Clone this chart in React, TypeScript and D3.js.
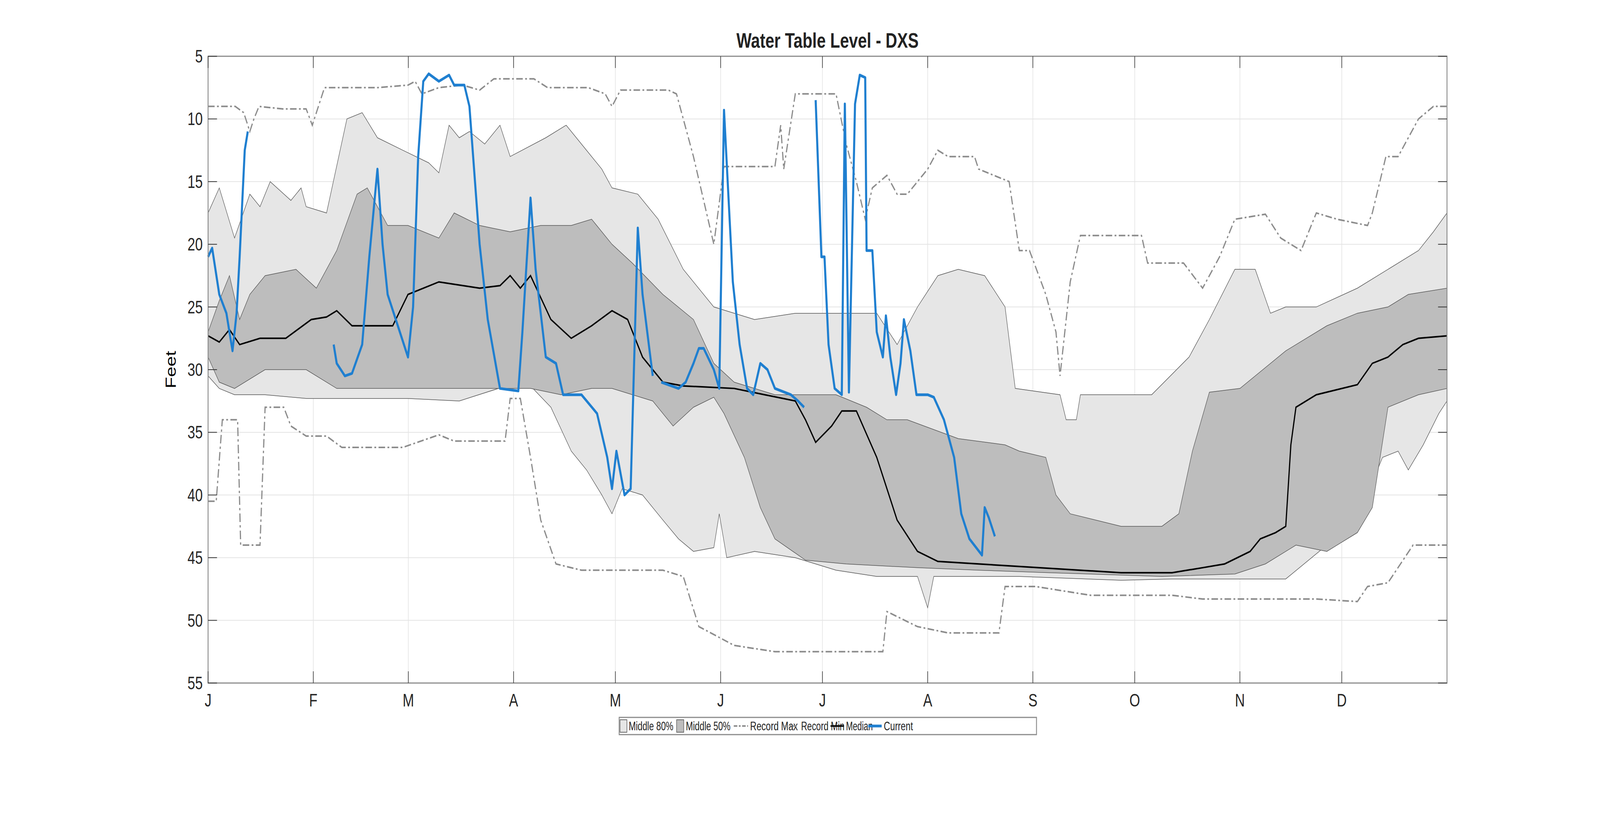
import React from "react";
import * as d3 from "d3";

type P = [number, number];

const monthLabels = ["J", "F", "M", "A", "M", "J", "J", "A", "S", "O", "N", "D"];
const monthStarts = [0, 31, 59, 90, 120, 151, 181, 212, 243, 273, 304, 334];
const yTicks = [5, 10, 15, 20, 25, 30, 35, 40, 45, 50, 55];

const recordMax: P[] = [[0,9],[8,9],[10.5,9.5],[12.3,11],[13.5,10],[15,9],[22,9.2],[28.9,9.2],[30.7,10.5],[34.3,7.5],[50,7.5],[58.9,7.3],[61,7],[63,8],[65,7.8],[68,7.5],[75,7.3],[80,7.7],[84.2,6.8],[96,6.8],[100,7.5],[112,7.5],[117,8],[119,9],[121.5,7.7],[135.6,7.7],[138,8],[143,13],[149,20],[152,13.8],[167,13.8],[168.7,10.5],[169.6,14],[173,8],[185,8],[188,12],[191,15],[193.6,18],[195.7,15.5],[200,14.5],[203,16],[206,16],[209,15],[212,14],[215,12.5],[218,13],[225.8,13],[227,14],[236,15],[239,20.5],[242,20.5],[246.8,24],[249.8,27],[251,30.5],[254,23],[257,19.3],[275,19.3],[276.8,21.5],[287.4,21.5],[293,23.5],[298,21],[302.5,18],[311.5,17.6],[316,19.5],[322,20.5],[326.5,17.5],[332.6,18],[341.6,18.5],[343,17.5],[347,13],[350.6,13],[356.6,10],[361,9],[365,9]];

const recordMin: P[] = [[0,40.5],[2.4,40.5],[4.2,34],[8.7,34],[9.6,44],[15.3,44],[16.8,33],[22.3,33],[24.4,34.5],[28.9,35.3],[34.9,35.3],[39.4,36.2],[57.4,36.2],[68,35.2],[72.5,35.7],[87.5,35.7],[89,32.3],[92,32.3],[95,37],[98,42],[102.5,45.5],[110,46],[134,46],[140,46.5],[144.6,50.5],[155,52],[167,52.5],[198.8,52.5],[200,49.3],[209,50.5],[218,51],[233,51],[234.8,47.3],[243.8,47.3],[260,48],[284,48],[293,48.3],[326.5,48.3],[338.6,48.5],[341.6,47.3],[347.6,47],[355,44],[365,44]];

const upper80: P[] = [[0,17.5],[3.3,15.5],[7.8,19.5],[12.3,16],[15.3,17],[18.3,15],[24.4,16.5],[27.4,15.5],[28.9,17],[34.9,17.5],[40.9,10],[45.4,9.5],[49.9,11.5],[57.4,12.5],[65,13.5],[68,14.3],[71,10.5],[74,11.5],[77,11],[81.5,12],[86,10.5],[89,13],[99.5,11.5],[105.5,10.5],[111.5,12.5],[116,14],[119,15.5],[126.6,16],[132.6,18],[140,22],[149,25],[161,26],[173,25.5],[197,25.5],[203,28],[209,25],[215,22.5],[221,22],[228.8,22.5],[234.8,25],[237.8,31.5],[251,32],[252.8,34],[255.8,34],[257,32],[278,32],[289,29],[295,26],[302.5,22],[308.5,22],[313,25.5],[317.5,25],[326.5,25],[338.6,23.5],[347.6,22],[356.6,20.5],[361,19],[365,17.5]];

const lower80: P[] = [[0,30.5],[3.3,31.5],[7.8,32],[16.8,32],[28.9,32.3],[58.9,32.3],[74,32.5],[89,31.2],[95,31.3],[101,33],[107,36.5],[111.5,38],[116,40],[119,41.5],[122,39.5],[128,40],[134,42],[138.6,43.5],[143,44.5],[149,44.2],[150.6,41.5],[152.8,45],[161,44.5],[173,45],[185,46],[197,46.5],[209,46.5],[212,49],[213.8,46.5],[239,46.5],[269,46.8],[284,46.7],[317.5,46.7],[329.6,44],[338.6,42.5],[343,39],[346,37],[350.6,36.5],[353.6,38],[358,36],[362.6,33.5],[365,32.5]];

const upper50: P[] = [[0,27],[3.3,24.5],[6.3,22.5],[9.3,26],[12.3,24],[16.8,22.5],[25.9,22],[31.9,23.5],[37.9,20.5],[43.9,16],[46.9,15.5],[52.9,18.5],[58.9,18.5],[68,19.5],[72.5,17.5],[80,18.5],[89,19],[98,18.5],[107,18.5],[113,18],[119,20],[125,21.5],[134,24],[143,26],[149,29.5],[155,31],[167,32],[185,32],[194,33],[200,34],[206,34],[221,35.5],[234.8,36],[239,36.5],[246.8,37],[249.8,40],[254,41.5],[269,42.5],[281,42.5],[286,41.5],[290,36.5],[295,31.8],[304,31.5],[317.5,28.5],[329.6,26.5],[338.6,25.5],[347.6,25],[353.6,24],[365,23.5]];

const lower50: P[] = [[0,29],[3.3,31],[7.8,31.5],[16.8,30],[28.9,30],[37.9,31.5],[89,31.5],[95,31.5],[104,32],[113,31.5],[119,31.5],[131,32.5],[137,34.5],[143,33],[149,32.2],[152,33.5],[158,37],[162.7,41],[167,43.5],[176,45.2],[188,45.5],[209,45.8],[227,46],[248,46.2],[281,46.5],[302.5,46.3],[311.5,45.5],[320.5,44],[329.6,44.5],[332.6,44],[338.6,43],[343,41],[347.6,33],[356.6,32],[365,31.5]];

const median: P[] = [[0,27.3],[3.3,27.8],[6.3,26.8],[9.3,28],[15.3,27.5],[22.9,27.5],[30.4,26],[34.9,25.8],[37.9,25.3],[42.4,26.5],[54.4,26.5],[58.9,24],[68,23],[80,23.5],[86,23.3],[89,22.5],[92,23.5],[95,22.5],[101,26],[107,27.5],[113,26.5],[119,25.3],[123.6,26],[128,29],[134,31],[140,31.3],[155,31.5],[164,32],[173,32.5],[176,34],[179,35.8],[183.7,34.5],[186.7,33.3],[191,33.3],[197,37],[203,42],[209,44.5],[215,45.3],[227,45.5],[239,45.7],[269,46.2],[284,46.2],[293,45.8],[299.5,45.5],[307,44.5],[310,43.5],[314.5,43],[317.5,42.5],[319,36],[320.5,33],[326.5,32],[338.6,31.2],[343,29.5],[347.6,29],[352,28],[356.6,27.5],[365,27.3]];

const current1: P[] = [[0,21],[1.2,20.3],[3.3,24],[5.4,25.5],[7.2,28.5],[8.4,25.5],[9.3,21],[10.8,12.5],[11.7,11]];
const current2: P[] = [[37,28],[37.9,29.5],[40.3,30.5],[42.4,30.3],[45.4,28],[47.5,21],[49.9,14],[51.4,20],[52.9,24],[55.9,26.5],[58.9,29],[60.4,25],[61.9,13],[63.4,7],[65,6.4],[68,7],[71,6.5],[72.5,7.3],[75.5,7.3],[77,9],[80,20],[82.4,26],[86,31.5],[91.4,31.7],[92.6,27],[95,16.3],[96.5,22],[99.5,29],[102.5,29.5],[104.6,32],[110,32],[114.6,33.5],[117.6,37],[119,39.5],[120.3,36.5],[122.7,40],[124.5,39.5],[126.6,18.7],[128,24],[131,30.5]];
const current3: P[] = [[133.5,31],[138.6,31.5],[140.7,31],[143,29.5],[144.6,28.3],[146,28.3],[149,30],[150.6,31.5],[152,9.3],[154.6,23],[156.6,28],[158.8,31.5],[160.6,32],[162.7,29.5],[164.8,30],[167,31.5],[171.7,32],[173.8,32.5],[175.6,33]];
const current4: P[] = [[179,8.5],[180.7,21],[181.6,21],[182.8,28],[184.6,31.5],[186.7,32],[187.6,8.8],[188.8,31.8],[190.6,8.8],[192,6.5],[193.6,6.7],[194,20.5],[195.7,20.5],[197,27],[198.8,29],[199.7,25.7],[201,29],[202.7,32],[204,29.5],[205,26],[206.9,28.5],[208.7,32],[212,32],[213.8,32.2],[216.8,34],[219.8,37],[221.9,41.5],[224.3,43.5],[228,44.8],[228.8,41],[230,41.8],[231.8,43.3]];
const currentSegments = [current1, current2, current3, current4];

const W = 5375, H = 2096;
const L = 699, R = 4861, T = 144, B = 1748;
const x = d3.scaleLinear().domain([0, 365]).range([L, R]);
const y = d3.scaleLinear().domain([5, 55]).range([T, B]);
const line = d3.line<P>().x(d => x(d[0])).y(d => y(d[1]));
const band = (u: P[], l: P[]) => line(u)! + line([...l].reverse())!.replace("M", "L") + "Z";

const FONT = "'Liberation Sans', Arial, sans-serif";
const DASH = "22,8,6,8";

export default function App() {
  const legendY = 1858;
  return (
    <svg viewBox={`0 0 ${W} ${H}`} preserveAspectRatio="none" style={{ position: "fixed", left: 0, top: 0, width: "100vw", height: "100vh", background: "#fff" }} fontFamily={FONT}>
      <rect width={W} height={H} fill="#fff" />
      {monthStarts.map((m, i) => <line key={"vg" + i} x1={x(m)} x2={x(m)} y1={T} y2={B} stroke="#e3e3e3" strokeWidth={2} />)}
      {yTicks.map(t => <line key={"hg" + t} x1={L} x2={R} y1={y(t)} y2={y(t)} stroke="#e3e3e3" strokeWidth={2} />)}
      <path d={band(upper80, lower80)} fill="#e6e6e6" stroke="#555" strokeWidth={1.5} />
      <path d={band(upper50, lower50)} fill="#bdbdbd" stroke="#555" strokeWidth={1.5} />
      <path d={line(recordMax)!} fill="none" stroke="#8c8c8c" strokeWidth={4} strokeDasharray={DASH} />
      <path d={line(recordMin)!} fill="none" stroke="#8c8c8c" strokeWidth={4} strokeDasharray={DASH} />
      <path d={line(median)!} fill="none" stroke="#000" strokeWidth={4} />
      {currentSegments.map((s, i) => <path key={"c" + i} d={line(s)!} fill="none" stroke="#1f7fd0" strokeWidth={7} strokeLinejoin="round" />)}
      <rect x={L} y={T} width={R - L} height={B - T} fill="none" stroke="#8c8c8c" strokeWidth={3} />
      {yTicks.map(t => (
        <g key={"yt" + t}>
          <line x1={L} x2={L + 30} y1={y(t)} y2={y(t)} stroke="#333" strokeWidth={2} />
          <line x1={R} x2={R - 30} y1={y(t)} y2={y(t)} stroke="#333" strokeWidth={2} />
          <text x={L - 18} y={y(t)} dy="0.35em" textAnchor="end" fontSize={46} fill="#262626">{t}</text>
        </g>
      ))}
      {monthStarts.map((m, i) => (
        <g key={"xt" + i}>
          <line x1={x(m)} x2={x(m)} y1={B} y2={B - 30} stroke="#333" strokeWidth={2} />
          <line x1={x(m)} x2={x(m)} y1={T} y2={T + 30} stroke="#333" strokeWidth={2} />
          <text x={x(m)} y={B + 60} textAnchor="middle" fontSize={46} fill="#262626">{monthLabels[i]}</text>
        </g>
      ))}
      <text x={590} y={(T + B) / 2} textAnchor="middle" fontSize={48} fill="#000" transform={`rotate(-90 590 ${(T + B) / 2})`}>Feet</text>
      <text x={(L + R) / 2} y={122} textAnchor="middle" fontSize={54} fontWeight="bold" fill="#222">Water Table Level - DXS</text>
      <g fontSize={31} fill="#222">
        <rect x={2080} y={1836} width={1402} height={44} fill="#fff" stroke="#8c8c8c" strokeWidth={3} />
        <rect x={2083} y={1842} width={23} height={32} fill="#e6e6e6" stroke="#666" strokeWidth={2} />
        <text x={2112} y={legendY} dy="0.35em" textLength={150} lengthAdjust="spacingAndGlyphs">Middle 80%</text>
        <rect x={2273} y={1842} width={24} height={32} fill="#bdbdbd" stroke="#666" strokeWidth={2} />
        <text x={2304} y={legendY} dy="0.35em" textLength={150} lengthAdjust="spacingAndGlyphs">Middle 50%</text>
        <line x1={2465} x2={2513} y1={legendY} y2={legendY} stroke="#8c8c8c" strokeWidth={4} strokeDasharray="12,5,6,5" />
        <text x={2520} y={legendY} dy="0.35em" textLength={160} lengthAdjust="spacingAndGlyphs">Record Max</text>
        <line x1={2636} x2={2681} y1={legendY} y2={legendY} stroke="#8c8c8c" strokeWidth={4} strokeDasharray="12,5,6,5" />
        <text x={2691} y={legendY} dy="0.35em" textLength={146} lengthAdjust="spacingAndGlyphs">Record Min</text>
        <line x1={2790} x2={2835} y1={legendY} y2={legendY} stroke="#000" strokeWidth={4} />
        <text x={2842} y={legendY} dy="0.35em" textLength={90} lengthAdjust="spacingAndGlyphs">Median</text>
        <line x1={2917} x2={2962} y1={legendY} y2={legendY} stroke="#1f7fd0" strokeWidth={7} />
        <text x={2969} y={legendY} dy="0.35em" textLength={98} lengthAdjust="spacingAndGlyphs">Current</text>
      </g>
    </svg>
  );
}
